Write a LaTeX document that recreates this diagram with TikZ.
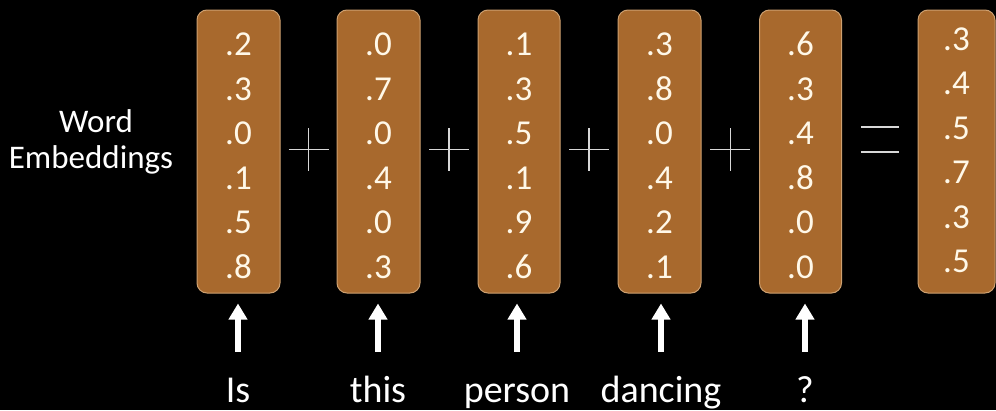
\documentclass[tikz,border=0pt]{standalone}
\usepackage{fontspec}
\setmainfont{Carlito}
\usetikzlibrary{arrows.meta,calc}
\definecolor{boxfill}{RGB}{168,105,45}
\definecolor{boxline}{RGB}{205,160,112}
\definecolor{txt}{RGB}{255,248,232}
\definecolor{opline}{RGB}{215,215,215}
\begin{document}
\begin{tikzpicture}[x=1pt,y=-1pt,
  vecbox/.style={draw=boxline, line width=1pt, fill=boxfill, rounded corners=10pt, minimum height=283pt, inner sep=0pt},
  num/.style={text=txt, font=\fontsize{35}{35}\selectfont, anchor=base, inner sep=0pt},
  word/.style={text=white, font=\fontsize{38}{38}\selectfont, anchor=base, inner sep=0pt, text height=24pt, text depth=8pt},
  side/.style={text=white, font=\fontsize{33}{33}\selectfont, anchor=base, inner sep=0pt},
  op/.style={draw=opline, line width=1.1pt},
  up/.style={draw=white, line width=6pt, -{Triangle[width=18pt,length=16pt]}}]
\fill[black] (0,0) rectangle (996,410);
\useasboundingbox (0,0) rectangle (996,410);

% vectors
\foreach \i/\x/\w in {1/238.5/83, 2/378.5/83, 3/519/82, 4/659.5/83, 5/800.5/82, 6/956.5/77}
  \node[vecbox, minimum width=\w pt] (box\i) at (\x,151.5) {};

\foreach \i/\off/\sp/\vals in {1/46/44.6/{.2,.3,.0,.1,.5,.8},
                              2/46/44.6/{.0,.7,.0,.4,.0,.3},
                              3/46/44.6/{.1,.3,.5,.1,.9,.6},
                              4/46/44.6/{.3,.8,.0,.4,.2,.1},
                              5/46/44.6/{.6,.3,.4,.8,.0,.0},
                              6/41/44.4/{.3,.4,.5,.7,.3,.5}}
  \foreach \v [count=\j] in \vals
    \node[num] (n\i-\j) at ($(box\i.north)+(0,{\off+\sp*(\j-1)})$) {\v};

% side label
\node[side] (we1) at (96,132) {Word};
\node[side] (we2) at (91,168) {Embeddings};

% plus signs and equals
\foreach \a/\b in {1/2,2/3,3/4,4/5}
  \coordinate (p\a) at ($(box\a.east)!0.5!(box\b.west)$);
\foreach \a in {1,...,4}
  \draw[op] ([xshift=-20pt,yshift=2pt]p\a) -- ([xshift=20pt,yshift=2pt]p\a)
            ([yshift=23.5pt]p\a) -- ([yshift=-19.5pt]p\a);
\coordinate (eq) at ($(box5.east)!0.5!(box6.west)$);
\draw[op] ([xshift=-19pt,yshift=24.5pt]eq) -- ([xshift=19pt,yshift=24.5pt]eq)
          ([xshift=-19pt,yshift=-0.5pt]eq) -- ([xshift=19pt,yshift=-0.5pt]eq);

% words and arrows
\foreach \i/\x/\t in {1/238/Is, 2/378/this, 3/517/person, 4/661/dancing, 5/805/?}
  \node[word] (w\i) at (\x,402) {\t};
\foreach \i in {1,...,5}
  \draw[up, shorten <=26pt, shorten >=10pt] (w\i.north) -- (w\i.north |- box\i.south);
\end{tikzpicture}
\end{document}
